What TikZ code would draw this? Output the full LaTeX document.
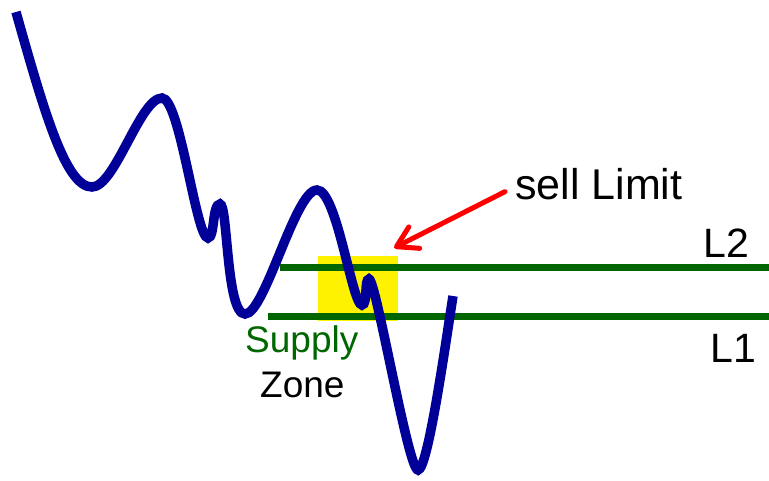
\documentclass[tikz,border=0pt]{standalone}
\usepackage{fontspec}
\setmainfont{Liberation Sans}
\usepackage{xcolor}
\usetikzlibrary{arrows.meta,positioning,calc}
\definecolor{priceblue}{HTML}{000099}
\definecolor{levelgreen}{HTML}{006600}

\begin{document}
\begin{tikzpicture}[
    x=1pt, y=-1pt,
    price/.style={line width=9.5pt, draw=priceblue},
    level/.style={line width=7pt, draw=levelgreen},
    zonebox/.style={rectangle, fill=yellow, inner sep=0pt, minimum width=80pt, minimum height=65pt},
    label/.style={inner sep=0pt, anchor=base west, font=\fontsize{41}{48}\selectfont},
    zonelabel/.style={inner sep=0pt, anchor=base west, font=\fontsize{37}{42}\selectfont},
    limitarrow/.style={-{Straight Barb[length=20pt, width=24pt, round]}, line width=5pt, draw=red, line cap=round}
]
    \useasboundingbox (0,0) rectangle (769,480);

    \node [zonebox] (zone) at (358,288.5) {};

    % levels
    \coordinate (l2a) at (280,267);
    \coordinate (l2b) at (769,267);
    \coordinate (l1a) at (268,316);
    \coordinate (l1b) at (769,316);
    \draw [level] (l2a) -- (l2b);
    \draw [level] (l1a) -- (l1b);

    % price path
    \draw [price] (16,12) .. controls (45,115) and (66,187) .. (92,187)
        .. controls (115,187) and (140,98) .. (162,98)
        .. controls (180,98) and (196,238) .. (208,238)
        .. controls (215,238) and (212,204) .. (220,204)
        .. controls (228,204) and (226,314) .. (245,314)
        .. controls (265,314) and (295,190) .. (317,190)
        .. controls (337,190) and (352,305) .. (362,305)
        .. controls (368,305) and (364,279) .. (369,279)
        .. controls (376,279) and (408,470) .. (418,470)
        .. controls (428,470) and (446,340) .. (453,296);

    \node [label, font=\fontsize{43}{50}\selectfont] (sell) at (515,199) {sell Limit};
    \node [label] (ltwo) at (703,257) {L2};
    \node [label] (lone) at (710,362) {L1};
    \node [zonelabel, text=levelgreen] (supply) at (245,352) {Supply};
    \node [zonelabel] (zonetxt) at (260,397) {Zone};

    \draw [limitarrow] ([shift={(-10,8)}]sell.west) -- ([shift={(-4,-8)}]zone.north east);
\end{tikzpicture}
\end{document}
